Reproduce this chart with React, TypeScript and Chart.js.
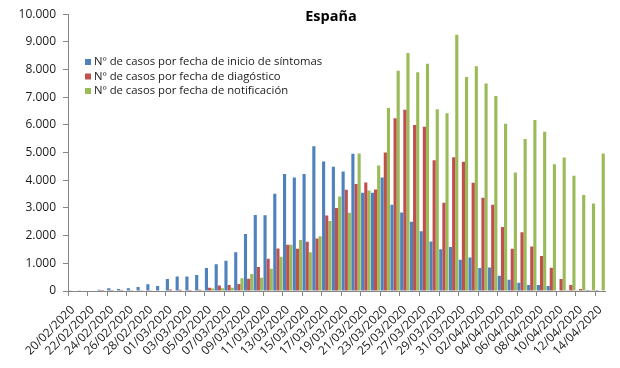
import React, { useEffect, useRef } from 'react';
import { Chart, registerables } from 'chart.js';

Chart.register(...registerables);

const TITLE = 'España';

const dates = [
  '20/02/2020', '21/02/2020', '22/02/2020', '23/02/2020', '24/02/2020', '25/02/2020', '26/02/2020',
  '27/02/2020', '28/02/2020', '29/02/2020', '01/03/2020', '02/03/2020', '03/03/2020', '04/03/2020',
  '05/03/2020', '06/03/2020', '07/03/2020', '08/03/2020', '09/03/2020', '10/03/2020', '11/03/2020',
  '12/03/2020', '13/03/2020', '14/03/2020', '15/03/2020', '16/03/2020', '17/03/2020', '18/03/2020',
  '19/03/2020', '20/03/2020', '21/03/2020', '22/03/2020', '23/03/2020', '24/03/2020', '25/03/2020',
  '26/03/2020', '27/03/2020', '28/03/2020', '29/03/2020', '30/03/2020', '31/03/2020', '01/04/2020',
  '02/04/2020', '03/04/2020', '04/04/2020', '05/04/2020', '06/04/2020', '07/04/2020', '08/04/2020',
  '09/04/2020', '10/04/2020', '11/04/2020', '12/04/2020', '13/04/2020', '14/04/2020',
];

const seriesNames = [
  'Nº de casos por fecha de inicio de síntomas',
  'Nº de casos por fecha de diagóstico',
  'Nº de casos por fecha de notificación',
];

const sintomas = [
  5, 10, 15, 45, 95, 70, 95, 140, 245, 185,
  430, 520, 520, 580, 830, 970, 1090, 1400, 2060, 2750,
  2740, 3510, 4230, 4100, 4230, 5230, 4680, 4490, 4320, 4960,
  3550, 3550, 4100, 3120, 2840, 2500, 2160, 1790, 1510, 1590,
  1130, 1210, 830, 850, 555, 405, 295, 215, 215, 180,
  20, 10, 5, 3, 2,
];

const diagnostico = [
  0, 0, 0, 2, 3, 2, 5, 8, 10, 15,
  50, 45, 40, 45, 115, 195, 215, 255, 445, 870,
  1165, 1535, 1675, 1530, 1775, 1900, 2730, 3000, 3660, 3870,
  3920, 3670, 5000, 6245, 6545, 5995, 5935, 4720, 3190, 4830,
  4670, 3915, 3370, 3120, 2315, 1530, 2120, 1610, 1265, 840,
  435, 215, 70, 10, 0,
];

const notificacion = [
  0, 0, 0, 0, 0, 0, 0, 0, 0, 0,
  0, 0, 0, 10, 90, 100, 120, 460, 610, 480,
  800, 1235, 1675, 1845, 1400, 1980, 2530, 3410, 2825, 4965,
  3635, 4535, 6610, 7960, 8600, 7900, 8210, 6570, 6425, 9260,
  7735, 8120, 7495, 7045, 6040, 4280, 5490, 6180, 5750, 4575,
  4825, 4165, 3470, 3160, 4965,
];

const yTicks = { min: 0, max: 10000, step: 1000 };
const colors = ['#4F81BD', '#C0504D', '#9BBB59'];

const FONT = '"Open Sans", "Liberation Sans", sans-serif';
const AXIS_COLOR = '#868686';

const fmt = (v: number) => String(Math.round(v)).replace(/\B(?=(\d{3})+(?!\d))/g, '.');

const overlayPlugin = {
  id: 'titleLegend',
  afterDraw(chart: any) {
    const { ctx } = chart;
    ctx.save();
    ctx.font = `bold 14.5px ${FONT}`;
    ctx.fillStyle = '#000';
    ctx.textAlign = 'center';
    ctx.textBaseline = 'middle';
    ctx.fillText(TITLE, 331, 17);
    ctx.font = `11.3px ${FONT}`;
    ctx.textAlign = 'left';
    chart.data.datasets.forEach((ds: any, i: number) => {
      const y = 62 + i * 14.5;
      ctx.fillStyle = ds.backgroundColor;
      ctx.fillRect(85, y - 3, 6, 6);
      ctx.fillStyle = '#1a1a1a';
      ctx.fillText(ds.label, 94, y);
    });
    ctx.restore();
  },
};

export default function App() {
  const ref = useRef<HTMLCanvasElement | null>(null);

  useEffect(() => {
    document.body.style.margin = '0';
    const canvas = ref.current;
    if (!canvas) return;
    const chart = new Chart(canvas, {
      type: 'bar',
      data: {
        labels: dates,
        datasets: [sintomas, diagnostico, notificacion].map((d, i) => ({
          label: seriesNames[i],
          data: d,
          backgroundColor: colors[i],
          borderWidth: 0,
          categoryPercentage: 0.96,
          barPercentage: 1,
        })),
      },
      options: {
        responsive: false,
        animation: false,
        devicePixelRatio: 1,
        layout: { padding: { top: 12, right: 15, bottom: 0, left: 0 } },
        plugins: {
          legend: { display: false },
          title: { display: false },
          tooltip: { enabled: false },
        },
        scales: {
          x: {
            afterFit: (s: any) => { s.height = 77; },
            grid: {
              drawOnChartArea: false,
              offset: true,
              tickLength: 5,
              tickColor: (c: any) => (c.index % 2 === 0 ? AXIS_COLOR : 'rgba(0,0,0,0)'),
            },
            border: { display: true, color: AXIS_COLOR },
            ticks: {
              autoSkip: false,
              maxRotation: 45,
              minRotation: 45,
              padding: 7,
              color: '#1a1a1a',
              font: { family: FONT, size: 12 },
              callback: (_v: any, idx: number) => (idx % 2 === 0 ? dates[idx] : ''),
            },
          },
          y: {
            min: yTicks.min,
            max: yTicks.max,
            afterFit: (s: any) => { s.width = 68; },
            grid: { drawOnChartArea: false, tickLength: 5, tickColor: AXIS_COLOR },
            border: { display: true, color: AXIS_COLOR },
            ticks: {
              stepSize: yTicks.step,
              padding: 7,
              color: '#1a1a1a',
              font: { family: FONT, size: 12 },
              callback: (v: any) => fmt(Number(v)),
            },
          },
        },
      },
      plugins: [overlayPlugin],
    });
    return () => chart.destroy();
  }, []);

  return (
    <div style={{ width: 620, height: 368 }}>
      <canvas ref={ref} width={620} height={368} style={{ display: 'block' }} />
    </div>
  );
}
